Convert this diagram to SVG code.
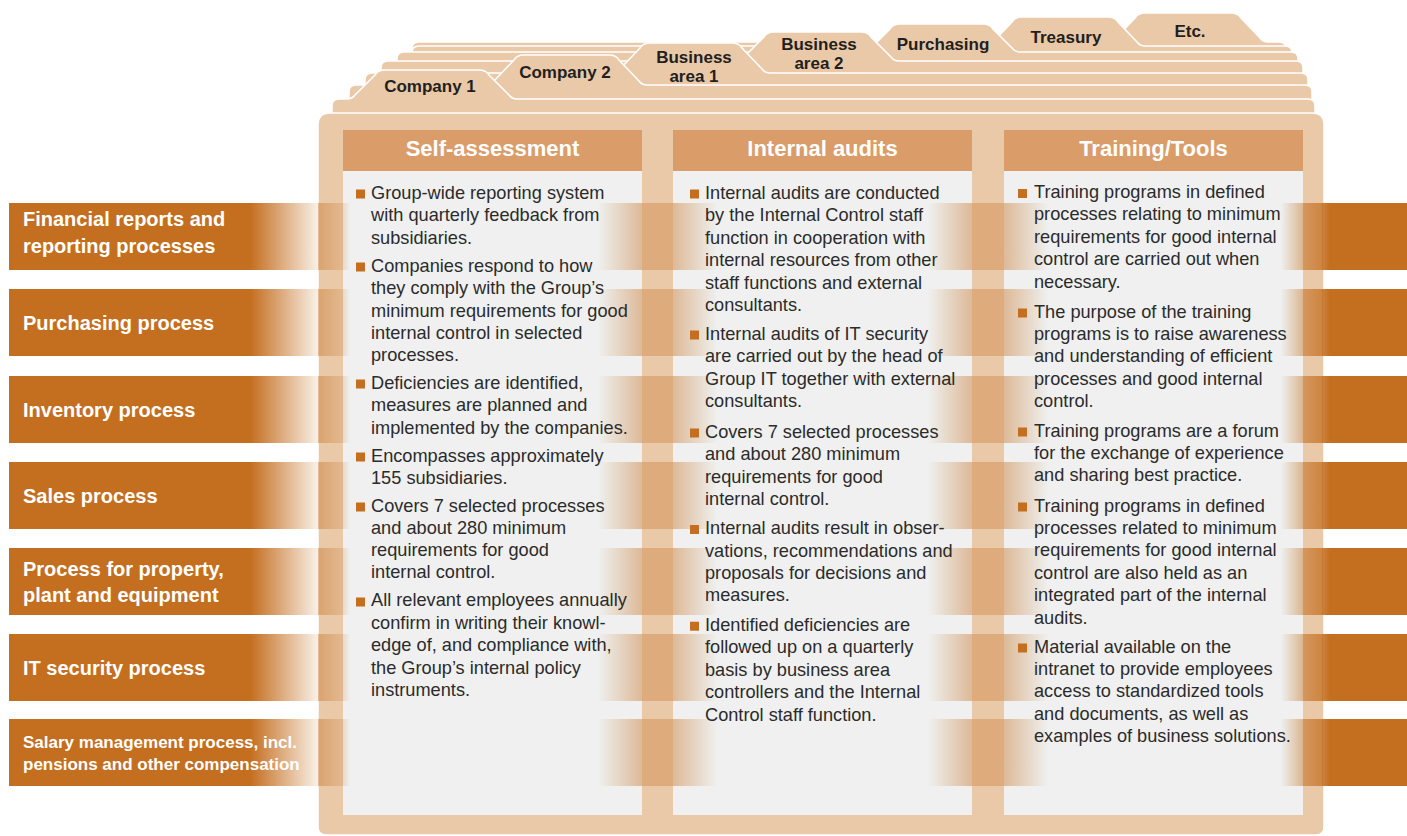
<svg xmlns="http://www.w3.org/2000/svg" width="1407" height="836" viewBox="0 0 1407 836">
<defs>
<style>
.layer{fill:#EAC9A8;stroke:#FFFFFF;stroke-width:1.5}
.tab{font-family:"Liberation Sans",Arial,sans-serif;font-weight:bold;font-size:17px;fill:#231F20;text-anchor:middle}
.panel{fill:#EFF0EF}
.hdr{fill:#DA9C69}
.hdrt{font-family:"Liberation Sans",Arial,sans-serif;font-weight:bold;font-size:22px;fill:#FFFFFF;text-anchor:middle}
.bar{fill:url(#leftFade)}
.ov{fill:url(#bandOv)}
.lbl{font-family:"Liberation Sans",Arial,sans-serif;font-weight:bold;font-size:20px;fill:#FFFFFF}
.lbls{font-family:"Liberation Sans",Arial,sans-serif;font-weight:bold;font-size:17px;fill:#FFFFFF}
.body{font-family:"Liberation Sans",Arial,sans-serif;font-size:18.2px;fill:#2B2B2B}
.bul{fill:#C46E1F}
</style>
<linearGradient id="leftFade" gradientUnits="userSpaceOnUse" x1="9" y1="0" x2="318" y2="0">
<stop offset="0" stop-color="#C46E1F" stop-opacity="1"/>
<stop offset="0.78" stop-color="#C46E1F" stop-opacity="1"/>
<stop offset="1" stop-color="#C46E1F" stop-opacity="0.1"/>
</linearGradient>
<linearGradient id="bandOv" gradientUnits="userSpaceOnUse" x1="318" y1="0" x2="1407" y2="0">
<stop offset="0" stop-color="#C46E1F" stop-opacity="0.42"/>
<stop offset="0.02296" stop-color="#C46E1F" stop-opacity="0.18"/>
<stop offset="0.02939" stop-color="#C46E1F" stop-opacity="0"/>
<stop offset="0.25712" stop-color="#C46E1F" stop-opacity="0"/>
<stop offset="0.29752" stop-color="#C46E1F" stop-opacity="0.42"/>
<stop offset="0.29752" stop-color="#C46E1F" stop-opacity="0.32"/>
<stop offset="0.32599" stop-color="#C46E1F" stop-opacity="0.32"/>
<stop offset="0.32599" stop-color="#C46E1F" stop-opacity="0.42"/>
<stop offset="0.36639" stop-color="#C46E1F" stop-opacity="0"/>
<stop offset="0.56015" stop-color="#C46E1F" stop-opacity="0"/>
<stop offset="0.60055" stop-color="#C46E1F" stop-opacity="0.42"/>
<stop offset="0.60055" stop-color="#C46E1F" stop-opacity="0.32"/>
<stop offset="0.62994" stop-color="#C46E1F" stop-opacity="0.32"/>
<stop offset="0.62994" stop-color="#C46E1F" stop-opacity="0.42"/>
<stop offset="0.67034" stop-color="#C46E1F" stop-opacity="0"/>
<stop offset="0.88430" stop-color="#C46E1F" stop-opacity="0"/>
<stop offset="0.90450" stop-color="#C46E1F" stop-opacity="0.45"/>
<stop offset="0.90450" stop-color="#C46E1F" stop-opacity="0.55"/>
<stop offset="0.92195" stop-color="#C46E1F" stop-opacity="0.75"/>
<stop offset="0.92195" stop-color="#C46E1F" stop-opacity="0.85"/>
<stop offset="0.92929" stop-color="#C46E1F" stop-opacity="1"/>
<stop offset="1" stop-color="#C46E1F" stop-opacity="1"/>
</linearGradient>
</defs>

<g id="folder-etc">
<path class="layer" d="M412,130 L412,49 Q412,42 419,42 L1108,42 Q1113,42 1116,38 L1135,18 Q1138,13 1145,13 L1231,13 Q1238,13 1241,18 L1260,38 Q1263,42 1268,42 L1279,42 Q1286,42 1286,49 L1286,130 Z"/>
<text class="tab" x="1190" y="36.5">Etc.</text>
</g>
<g id="folder-treasury">
<path class="layer" d="M412,130 L412,53 Q412,46 419,46 L985,46 Q990,46 993,42 L1012,22 Q1015,17 1022,17 L1108,17 Q1115,17 1118,22 L1137,42 Q1140,46 1145,46 L1285,46 Q1292,46 1292,53 L1292,130 Z"/>
<text class="tab" x="1066" y="42.5">Treasury</text>
</g>
<g id="folder-purchasing">
<path class="layer" d="M397,130 L397,59 Q397,52 404,52 L863,52 Q868,52 871,48 L890,29 Q893,24 900,24 L983,24 Q990,24 993,29 L1012,48 Q1015,52 1020,52 L1291,52 Q1298,52 1298,59 L1298,130 Z"/>
<text class="tab" x="943" y="50">Purchasing</text>
</g>
<g id="folder-business-area-2">
<path class="layer" d="M381,130 L381,68 Q381,61 388,61 L736,61 Q741,61 744,57 L764,37 Q767,32 774,32 L861,32 Q868,32 871,37 L891,57 Q894,61 899,61 L1296,61 Q1303,61 1303,68 L1303,130 Z"/>
<text class="tab" x="819" y="50">Business</text>
<text class="tab" x="819" y="68.5">area 2</text>
</g>
<g id="folder-business-area-1">
<path class="layer" d="M365,130 L365,80 Q365,73 372,73 L612,73 Q617,73 620,69 L640,48 Q643,43 650,43 L732,43 Q739,43 742,48 L762,69 Q765,73 770,73 L1301,73 Q1308,73 1308,80 L1308,130 Z"/>
<text class="tab" x="694" y="62.5">Business</text>
<text class="tab" x="694" y="81.5">area 1</text>
</g>
<g id="folder-company-2">
<path class="layer" d="M349,130 L349,92 Q349,85 356,85 L486,85 Q491,85 494,81 L514,60 Q517,55 524,55 L609,55 Q616,55 619,60 L639,81 Q642,85 647,85 L1305,85 Q1312,85 1312,92 L1312,130 Z"/>
<text class="tab" x="565" y="77.5">Company 2</text>
</g>
<g id="folder-company-1">
<path class="layer" d="M332,130 L332,106 Q332,99 339,99 L347,99 Q352,99 355,95 L375,75 Q378,70 385,70 L479,70 Q486,70 489,75 L509,95 Q512,99 517,99 L1308,99 Q1315,99 1315,106 L1315,130 Z"/>
<text class="tab" x="430" y="91.5">Company 1</text>
</g>

<g id="main-body">
<path class="layer" d="M318,125 Q318,113 330,113 L1312,113 Q1324,113 1324,125 L1324,827 Q1324,835 1316,835 L326,835 Q318,835 318,827 Z"/>
</g>

<g id="panels">
<rect class="panel" x="343" y="130" width="299" height="685"/>
<rect class="panel" x="673" y="130" width="299" height="685"/>
<rect class="panel" x="1004" y="130" width="299" height="685"/>
<rect class="hdr" x="343" y="130" width="299" height="41"/>
<rect class="hdr" x="673" y="130" width="299" height="41"/>
<rect class="hdr" x="1004" y="130" width="299" height="41"/>
<text class="hdrt" x="492.5" y="156">Self-assessment</text>
<text class="hdrt" x="822.5" y="156">Internal audits</text>
<text class="hdrt" x="1153.5" y="156">Training/Tools</text>
</g>

<g id="row-financial">
<rect class="bar" x="9" y="203" width="309" height="67"/>
<rect class="ov" x="318" y="203" width="1089" height="67"/>
<text class="lbl" x="23" y="226">Financial reports and</text>
<text class="lbl" x="23" y="252.5">reporting processes</text>
</g>
<g id="row-purchasing">
<rect class="bar" x="9" y="289" width="309" height="67"/>
<rect class="ov" x="318" y="289" width="1089" height="67"/>
<text class="lbl" x="23" y="329.5">Purchasing process</text>
</g>
<g id="row-inventory">
<rect class="bar" x="9" y="376" width="309" height="67"/>
<rect class="ov" x="318" y="376" width="1089" height="67"/>
<text class="lbl" x="23" y="416.5">Inventory process</text>
</g>
<g id="row-sales">
<rect class="bar" x="9" y="462" width="309" height="67"/>
<rect class="ov" x="318" y="462" width="1089" height="67"/>
<text class="lbl" x="23" y="502.5">Sales process</text>
</g>
<g id="row-property">
<rect class="bar" x="9" y="548" width="309" height="67"/>
<rect class="ov" x="318" y="548" width="1089" height="67"/>
<text class="lbl" x="23" y="576">Process for property,</text>
<text class="lbl" x="23" y="602">plant and equipment</text>
</g>
<g id="row-it-security">
<rect class="bar" x="9" y="634" width="309" height="67"/>
<rect class="ov" x="318" y="634" width="1089" height="67"/>
<text class="lbl" x="23" y="675">IT security process</text>
</g>
<g id="row-salary">
<rect class="bar" x="9" y="719" width="309" height="67"/>
<rect class="ov" x="318" y="719" width="1089" height="67"/>
<text class="lbls" x="23" y="747.5">Salary management process, incl.</text>
<text class="lbls" x="23" y="769.5">pensions and other compensation</text>
</g>

<g id="col-self-assessment">
<rect class="bul" x="356" y="189.5" width="9" height="9"/>
<rect class="bul" x="356" y="262.5" width="9" height="9"/>
<rect class="bul" x="356" y="379.5" width="9" height="9"/>
<rect class="bul" x="356" y="452.5" width="9" height="9"/>
<rect class="bul" x="356" y="502.5" width="9" height="9"/>
<rect class="bul" x="356" y="597.5" width="9" height="9"/>
<text class="body">
<tspan x="371" y="198.5">Group-wide reporting system</tspan>
<tspan x="371" y="220.5">with quarterly feedback from</tspan>
<tspan x="371" y="243.5">subsidiaries.</tspan>
<tspan x="371" y="271.5">Companies respond to how</tspan>
<tspan x="371" y="293.5">they comply with the Group’s</tspan>
<tspan x="371" y="316.5">minimum requirements for good</tspan>
<tspan x="371" y="338.5">internal control in selected</tspan>
<tspan x="371" y="360.5">processes.</tspan>
<tspan x="371" y="388.5">Deficiencies are identified,</tspan>
<tspan x="371" y="410.5">measures are planned and</tspan>
<tspan x="371" y="433.5">implemented by the companies.</tspan>
<tspan x="371" y="461.5">Encompasses approximately</tspan>
<tspan x="371" y="483.5">155 subsidiaries.</tspan>
<tspan x="371" y="511.5">Covers 7 selected processes</tspan>
<tspan x="371" y="533.5">and about 280 minimum</tspan>
<tspan x="371" y="556">requirements for good</tspan>
<tspan x="371" y="578">internal control.</tspan>
<tspan x="371" y="606">All relevant employees annually</tspan>
<tspan x="371" y="628.5">confirm in writing their knowl-</tspan>
<tspan x="371" y="651">edge of, and compliance with,</tspan>
<tspan x="371" y="673.5">the Group’s internal policy</tspan>
<tspan x="371" y="695.5">instruments.</tspan>
</text>
</g>

<g id="col-internal-audits">
<rect class="bul" x="690" y="189.5" width="9" height="9"/>
<rect class="bul" x="690" y="330.5" width="9" height="9"/>
<rect class="bul" x="690" y="428.5" width="9" height="9"/>
<rect class="bul" x="690" y="525" width="9" height="9"/>
<rect class="bul" x="690" y="621.7" width="9" height="9"/>
<text class="body">
<tspan x="705" y="198.5">Internal audits are conducted</tspan>
<tspan x="705" y="221">by the Internal Control staff</tspan>
<tspan x="705" y="243.5">function in cooperation with</tspan>
<tspan x="705" y="266">internal resources from other</tspan>
<tspan x="705" y="288.5">staff functions and external</tspan>
<tspan x="705" y="311">consultants.</tspan>
<tspan x="705" y="339.5">Internal audits of IT security</tspan>
<tspan x="705" y="362">are carried out by the head of</tspan>
<tspan x="705" y="384.5">Group IT together with external</tspan>
<tspan x="705" y="407">consultants.</tspan>
<tspan x="705" y="437.5">Covers 7 selected processes</tspan>
<tspan x="705" y="460">and about 280 minimum</tspan>
<tspan x="705" y="482.5">requirements for good</tspan>
<tspan x="705" y="505">internal control.</tspan>
<tspan x="705" y="534">Internal audits result in obser-</tspan>
<tspan x="705" y="556.5">vations, recommendations and</tspan>
<tspan x="705" y="579">proposals for decisions and</tspan>
<tspan x="705" y="601">measures.</tspan>
<tspan x="705" y="630.7">Identified deficiencies are</tspan>
<tspan x="705" y="653.2">followed up on a quarterly</tspan>
<tspan x="705" y="675.6">basis by business area</tspan>
<tspan x="705" y="698">controllers and the Internal</tspan>
<tspan x="705" y="720.5">Control staff function.</tspan>
</text>
</g>

<g id="col-training-tools">
<rect class="bul" x="1018" y="189" width="9" height="9"/>
<rect class="bul" x="1018" y="308.5" width="9" height="9"/>
<rect class="bul" x="1018" y="427.5" width="9" height="9"/>
<rect class="bul" x="1018" y="502.5" width="9" height="9"/>
<rect class="bul" x="1018" y="643.5" width="9" height="9"/>
<text class="body">
<tspan x="1034" y="198">Training programs in defined</tspan>
<tspan x="1034" y="220.4">processes relating to minimum</tspan>
<tspan x="1034" y="242.8">requirements for good internal</tspan>
<tspan x="1034" y="265.2">control are carried out when</tspan>
<tspan x="1034" y="287.6">necessary.</tspan>
<tspan x="1034" y="317.5">The purpose of the training</tspan>
<tspan x="1034" y="339.9">programs is to raise awareness</tspan>
<tspan x="1034" y="362.3">and understanding of efficient</tspan>
<tspan x="1034" y="384.7">processes and good internal</tspan>
<tspan x="1034" y="407.1">control.</tspan>
<tspan x="1034" y="436.5">Training programs are a forum</tspan>
<tspan x="1034" y="458.9">for the exchange of experience</tspan>
<tspan x="1034" y="481.3">and sharing best practice.</tspan>
<tspan x="1034" y="511.5">Training programs in defined</tspan>
<tspan x="1034" y="533.9">processes related to minimum</tspan>
<tspan x="1034" y="556.3">requirements for good internal</tspan>
<tspan x="1034" y="578.7">control are also held as an</tspan>
<tspan x="1034" y="601.1">integrated part of the internal</tspan>
<tspan x="1034" y="623.5">audits.</tspan>
<tspan x="1034" y="652.5">Material available on the</tspan>
<tspan x="1034" y="674.9">intranet to provide employees</tspan>
<tspan x="1034" y="697.3">access to standardized tools</tspan>
<tspan x="1034" y="719.7">and documents, as well as</tspan>
<tspan x="1034" y="742.1">examples of business solutions.</tspan>
</text>
</g>
</svg>
